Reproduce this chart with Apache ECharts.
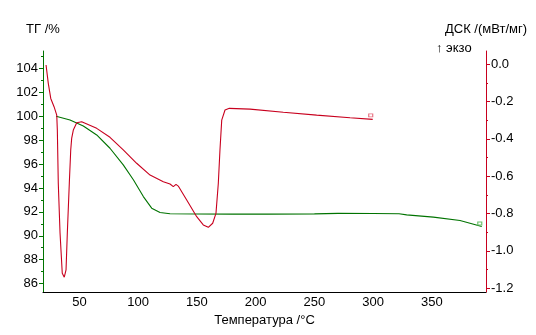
<!DOCTYPE html>
<html>
<head>
<meta charset="utf-8">
<script src="https://cdn.jsdelivr.net/npm/echarts@6/dist/echarts.min.js"></script>
<style>
  html, body { margin: 0; padding: 0; background: #fff; }
  #chart { width: 536px; height: 335px; }
</style>
</head>
<body>
<div id="chart"></div>
<script>
// ТГ curve (left axis, %)
const tgTemp = [30.1, 42.0, 53.3, 64.7, 76.0, 87.3, 95.9, 104.4, 111.5, 118.6, 127.1, 149.8, 180, 210, 250, 270, 300, 322, 328.5, 351.2, 373.9, 392.4]
const tgValue = [100.0, 99.68, 99.18, 98.43, 97.32, 95.93, 94.68, 93.28, 92.31, 91.95, 91.84, 91.82, 91.81, 91.81, 91.83, 91.87, 91.86, 91.84, 91.75, 91.56, 91.28, 90.78]

// ДСК curve (right axis, mW/mg)
const dscTemp = [21.6, 23.5, 25.6, 28.4, 30.7, 31.2, 32.0, 33.5, 35.4, 37.1, 38.6, 39.7, 41.4, 42.6, 43.4, 44.8, 47.7, 51.9, 64.7, 76.0, 87.3, 98.7, 110.1, 121.4, 127.1, 129.9, 132.2, 134.1, 141.3, 149.8, 155.4, 159.7, 163.4, 166.2, 168.2, 169.6, 171.1, 173.9, 177.6, 195.2, 223.5, 251.9, 280.3, 299.6]
const dscValue = [-0.005, -0.103, -0.184, -0.228, -0.273, -0.353, -0.637, -0.904, -1.12, -1.141, -1.102, -0.904, -0.637, -0.46, -0.398, -0.353, -0.314, -0.309, -0.344, -0.392, -0.459, -0.531, -0.594, -0.63, -0.642, -0.656, -0.644, -0.653, -0.728, -0.817, -0.861, -0.874, -0.852, -0.799, -0.638, -0.46, -0.3, -0.246, -0.237, -0.241, -0.258, -0.273, -0.287, -0.296]

// tick labels
const tempTicks = [50, 100, 150, 200, 250, 300, 350]
const tgTicks = [86, 88, 90, 92, 94, 96, 98, 100, 102, 104]
const tgMinorTicks = [85, 87, 89, 91, 93, 95, 97, 99, 101, 103, 105]
const dscTicks = [0, -0.2, -0.4, -0.6, -0.8, -1.0, -1.2]
const dscMinorTicks = [-0.1, -0.3, -0.5, -0.7, -0.9, -1.1]

const red = '#c8001e'
const green = '#007300'
const font = "'Liberation Sans', Arial, sans-serif"

const chart = echarts.init(document.getElementById('chart'))

const tgRange = { min: 85.3, max: 105.45 }
const dscRange = { min: -1.22, max: 0.07 }

chart.setOption({
  animation: false,
  textStyle: { fontFamily: font },
  grid: { left: 43, right: 50, top: 51, bottom: 43, containLabel: false },
  xAxis: {
    type: 'value',
    min: 19,
    max: 396,
    name: 'Температура /°C',
    nameLocation: 'middle',
    nameGap: 17,
    nameTextStyle: { color: '#000', fontSize: 13, fontFamily: font },
    axisLine: { onZero: false, lineStyle: { color: '#000', width: 1 } },
    axisTick: { show: false },
    axisLabel: {
      customValues: tempTicks,
      color: '#000',
      fontSize: 13,
      fontFamily: font,
      margin: 4
    },
    splitLine: { show: false }
  },
  yAxis: [
    {
      type: 'value',
      position: 'left',
      ...tgRange,
      name: 'ТГ /%',
      nameLocation: 'end',
      nameGap: 15,
      nameTextStyle: { color: '#000', fontSize: 13, fontFamily: font },
      axisLine: { show: true, onZero: false, lineStyle: { color: green, width: 1 } },
      axisTick: { show: true, customValues: tgTicks, length: 4, lineStyle: { color: green } },
      axisLabel: { customValues: tgTicks, color: '#000', fontSize: 13, fontFamily: font, margin: 5 },
      splitLine: { show: false }
    },
    {
      type: 'value',
      position: 'right',
      ...dscRange,
      name: 'ДСК /(мВт/мг)',
      nameLocation: 'end',
      nameGap: 15,
      nameTextStyle: { color: '#000', fontSize: 13, fontFamily: font },
      axisLine: { show: true, onZero: false, lineStyle: { color: red, width: 1 } },
      axisTick: { show: true, customValues: dscTicks, length: 4, lineStyle: { color: red } },
      axisLabel: {
        customValues: dscTicks,
        color: '#000',
        fontSize: 13,
        fontFamily: font,
        margin: 5,
        formatter: (v) => v.toFixed(1)
      },
      splitLine: { show: false }
    },
    // minor ticks for the left axis
    {
      type: 'value',
      position: 'left',
      ...tgRange,
      axisLine: { show: false, onZero: false },
      axisTick: { show: true, customValues: tgMinorTicks, length: 2, lineStyle: { color: green } },
      axisLabel: { show: false },
      splitLine: { show: false }
    },
    // minor ticks for the right axis
    {
      type: 'value',
      position: 'right',
      ...dscRange,
      axisLine: { show: false, onZero: false },
      axisTick: { show: true, customValues: dscMinorTicks, length: 2, lineStyle: { color: red } },
      axisLabel: { show: false },
      splitLine: { show: false }
    }
  ],
  graphic: [
    {
      type: 'text',
      left: 436,
      top: 42,
      style: { text: '↑ экзо', fill: '#000', font: '13px ' + font }
    }
  ],
  series: [
    {
      name: 'ТГ',
      type: 'line',
      yAxisIndex: 0,
      data: tgTemp.map((t, i) => [t, tgValue[i]]),
      showSymbol: false,
      lineStyle: { color: green, width: 1.1 },
      itemStyle: { color: green },
      markPoint: {
        symbol: 'rect',
        symbolSize: [4, 3],
        symbolOffset: [-2, -3],
        itemStyle: { color: 'transparent', borderColor: '#6cc06c', borderWidth: 1 },
        label: { show: false },
        data: [{ coord: [tgTemp[tgTemp.length - 1], tgValue[tgValue.length - 1]] }]
      }
    },
    {
      name: 'ДСК',
      type: 'line',
      yAxisIndex: 1,
      data: dscTemp.map((t, i) => [t, dscValue[i]]),
      showSymbol: false,
      lineStyle: { color: red, width: 1.1 },
      itemStyle: { color: red },
      markPoint: {
        symbol: 'rect',
        symbolSize: [4, 3],
        symbolOffset: [-2, -4],
        itemStyle: { color: 'transparent', borderColor: '#e87080', borderWidth: 1 },
        label: { show: false },
        data: [{ coord: [dscTemp[dscTemp.length - 1], dscValue[dscValue.length - 1]] }]
      }
    }
  ]
})
</script>
</body>
</html>
